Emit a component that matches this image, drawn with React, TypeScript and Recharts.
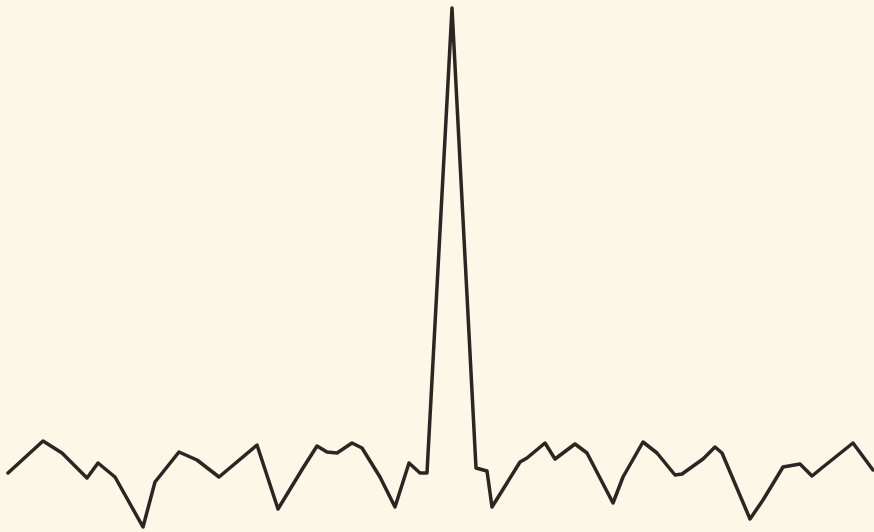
import { LineChart, Line, XAxis, YAxis } from "recharts"

// sample positions along the trace (horizontal units)
const offsets = [
  8, 43, 62, 87, 98, 115, 143, 155, 179, 197, 219, 257, 278, 303, 317, 327,
  337, 352, 362, 380, 395, 409, 420, 427, 452, 476, 487, 492, 520, 527, 545,
  555, 575, 587, 613, 623, 643, 657, 675, 682, 703, 715, 722, 750, 763, 783,
  800, 812, 823, 853, 873,
]

// amplitude of the trace at each position
const amplitude = [
  59, 91, 79, 54, 69, 55, 5, 50, 80, 72, 55, 87, 23, 64, 86, 80,
  79, 89, 84, 55, 25, 69, 59, 59, 524, 64, 61, 25, 70, 74, 89,
  73, 88, 79, 29, 55, 90, 79, 57, 58, 73, 85, 79, 13, 32, 65,
  68, 56, 65, 89, 62,
]

const data = offsets.map((x, i) => ({ x, v: amplitude[i] }))

export default function App() {
  return (
    <div style={{ position: "absolute", left: 0, top: 0, width: 874, height: 532, background: "#fcf7e7" }}>
      <LineChart width={874} height={532} data={data} margin={{ top: 0, right: 0, bottom: 0, left: 0 }}>
        <XAxis dataKey="x" type="number" domain={[0, 874]} hide />
        <YAxis type="number" domain={[0, 532]} hide />
        <Line
          type="linear"
          dataKey="v"
          stroke="#2b2523"
          strokeWidth={3.5}
          strokeLinejoin="round"
          strokeLinecap="round"
          dot={false}
          activeDot={false}
          isAnimationActive={false}
        />
      </LineChart>
    </div>
  )
}
